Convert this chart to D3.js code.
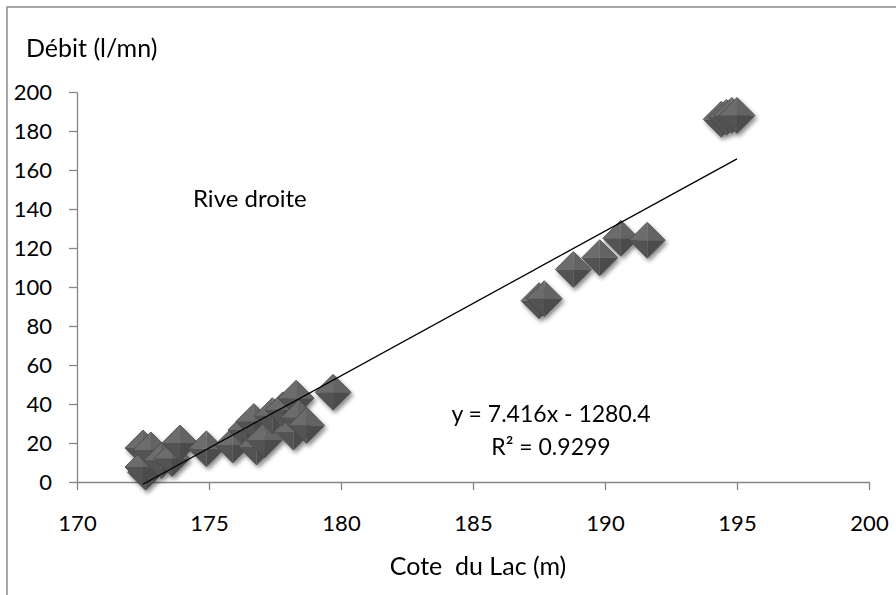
<!DOCTYPE html>
<html><head><meta charset="utf-8">
<script src="https://cdn.jsdelivr.net/npm/d3@7"></script>
<style>
body{margin:0;background:#fff}
svg{display:block}
text{font-family:Lato,"Open Sans",sans-serif;fill:#000}
</style>
</head><body>
<svg id="chart" width="896" height="595"></svg>
<script>
// ---- data ----
const coteDuLac = [172.5, 172.6, 172.5, 172.8, 173.2, 173.6, 173.9, 174.9, 175.9, 176.4, 176.7, 176.8, 177.1, 177.4, 177.8, 178.2, 178.3, 178.4, 178.7, 179.7,
                   187.5, 187.7, 188.8, 189.8, 190.6, 191.6,
                   194.4, 194.6, 194.8, 195.0];
const debit =     [17.4, 5, 7.7, 16.4, 11, 12, 20, 17, 19, 26.7, 31, 18, 21.5, 34, 37, 25.6, 43, 33, 29, 46,
                   93, 94, 109, 115, 125, 124,
                   186, 187, 188, 188];
const xTickValues = [170, 175, 180, 185, 190, 195, 200];
const yTickValues = [0, 20, 40, 60, 80, 100, 120, 140, 160, 180, 200];
const trendCoef = [7.416, -1280.4];   // slope, intercept
const trendRange = [172.5, 195];
const labels = {
  yTitle: "Débit (l/mn)",
  xTitle: "Cote  du Lac (m)",
  note: "Rive droite",
  eq: "y = 7.416x - 1280.4",
  r2: "R² = 0.9299"
};

// ---- chart ----
const svg = d3.select("#chart");
const x = d3.scaleLinear().domain([170, 200]).range([77, 869]);
const y = d3.scaleLinear().domain([0, 200]).range([482, 92]);

// outer frame
svg.append("rect").attr("x", 7).attr("y", 7).attr("width", 1200).attr("height", 1200)
  .attr("fill", "none").attr("stroke", "#8a8a8a").attr("stroke-width", 1.5);

const defs = svg.append("defs");
const f = defs.append("filter").attr("id", "sh").attr("x", "-50%").attr("y", "-50%").attr("width", "200%").attr("height", "200%");
f.append("feDropShadow").attr("dx", 2).attr("dy", 3).attr("stdDeviation", 2)
  .attr("flood-color", "#000").attr("flood-opacity", 0.45);

const axisColor = "#868686";
const gx = svg.append("g").attr("transform", `translate(0,${y(0)})`)
  .call(d3.axisBottom(x).tickValues(xTickValues).tickSize(8).tickSizeOuter(0).tickFormat(d3.format("d")));
const gy = svg.append("g").attr("transform", `translate(${x(170)},0)`)
  .call(d3.axisLeft(y).tickValues(yTickValues).tickSize(8).tickSizeOuter(0).tickFormat(d3.format("d")));
[gx, gy].forEach(g => {
  g.select(".domain").attr("stroke", axisColor).attr("stroke-width", 1.3);
  g.selectAll(".tick line").attr("stroke", axisColor).attr("stroke-width", 1.3);
  g.selectAll(".tick text").attr("font-size", 22).attr("font-family", "Lato, sans-serif").attr("fill", "#000");
});
gx.selectAll(".tick text").attr("y", 33).attr("dy", "0.71em");
gy.selectAll(".tick text").attr("x", -25).attr("dy", "0.35em");

// markers
const r = 18;
const pts = coteDuLac.map((c, i) => ({x: c, y: debit[i]}));
const mk = svg.append("g").attr("filter", "url(#sh)");
const faces = [
  {d: `M0,0 L${-r},0 L0,${-r}Z`, c: "#6c6c6c"},
  {d: `M0,0 L0,${-r} L${r},0Z`, c: "#646464"},
  {d: `M0,0 L${r},0 L0,${r}Z`, c: "#4b4b4b"},
  {d: `M0,0 L0,${r} L${-r},0Z`, c: "#535353"}
];
const g = mk.selectAll("g.pt").data(pts).join("g").attr("class", "pt")
  .attr("transform", d => `translate(${x(d.x)},${y(d.y)})`);
faces.forEach(fc => g.append("path").attr("d", fc.d).attr("fill", fc.c));
g.append("path").attr("d", `M0,${-r} L${r},0 L0,${r} L${-r},0Z`).attr("fill", "none")
  .attr("stroke", "#474747").attr("stroke-width", 0.8);

// trendline
svg.append("line")
  .attr("x1", x(trendRange[0])).attr("y1", y(trendCoef[0] * trendRange[0] + trendCoef[1]))
  .attr("x2", x(trendRange[1])).attr("y2", y(trendCoef[0] * trendRange[1] + trendCoef[1]))
  .attr("stroke", "#000").attr("stroke-width", 1.3);

// texts
svg.append("text").attr("x", 26).attr("y", 57).attr("font-size", 25).text(labels.yTitle);
svg.append("text").attr("x", 478).attr("y", 575).attr("text-anchor", "middle").attr("font-size", 25)
  .style("white-space", "pre").text(labels.xTitle);
svg.append("text").attr("x", 193).attr("y", 207).attr("font-size", 24).text(labels.note);
svg.append("text").attr("x", 551).attr("y", 422).attr("text-anchor", "middle").attr("font-size", 23).text(labels.eq);
svg.append("text").attr("x", 551).attr("y", 455).attr("text-anchor", "middle").attr("font-size", 23).text(labels.r2);
</script>
</body></html>
